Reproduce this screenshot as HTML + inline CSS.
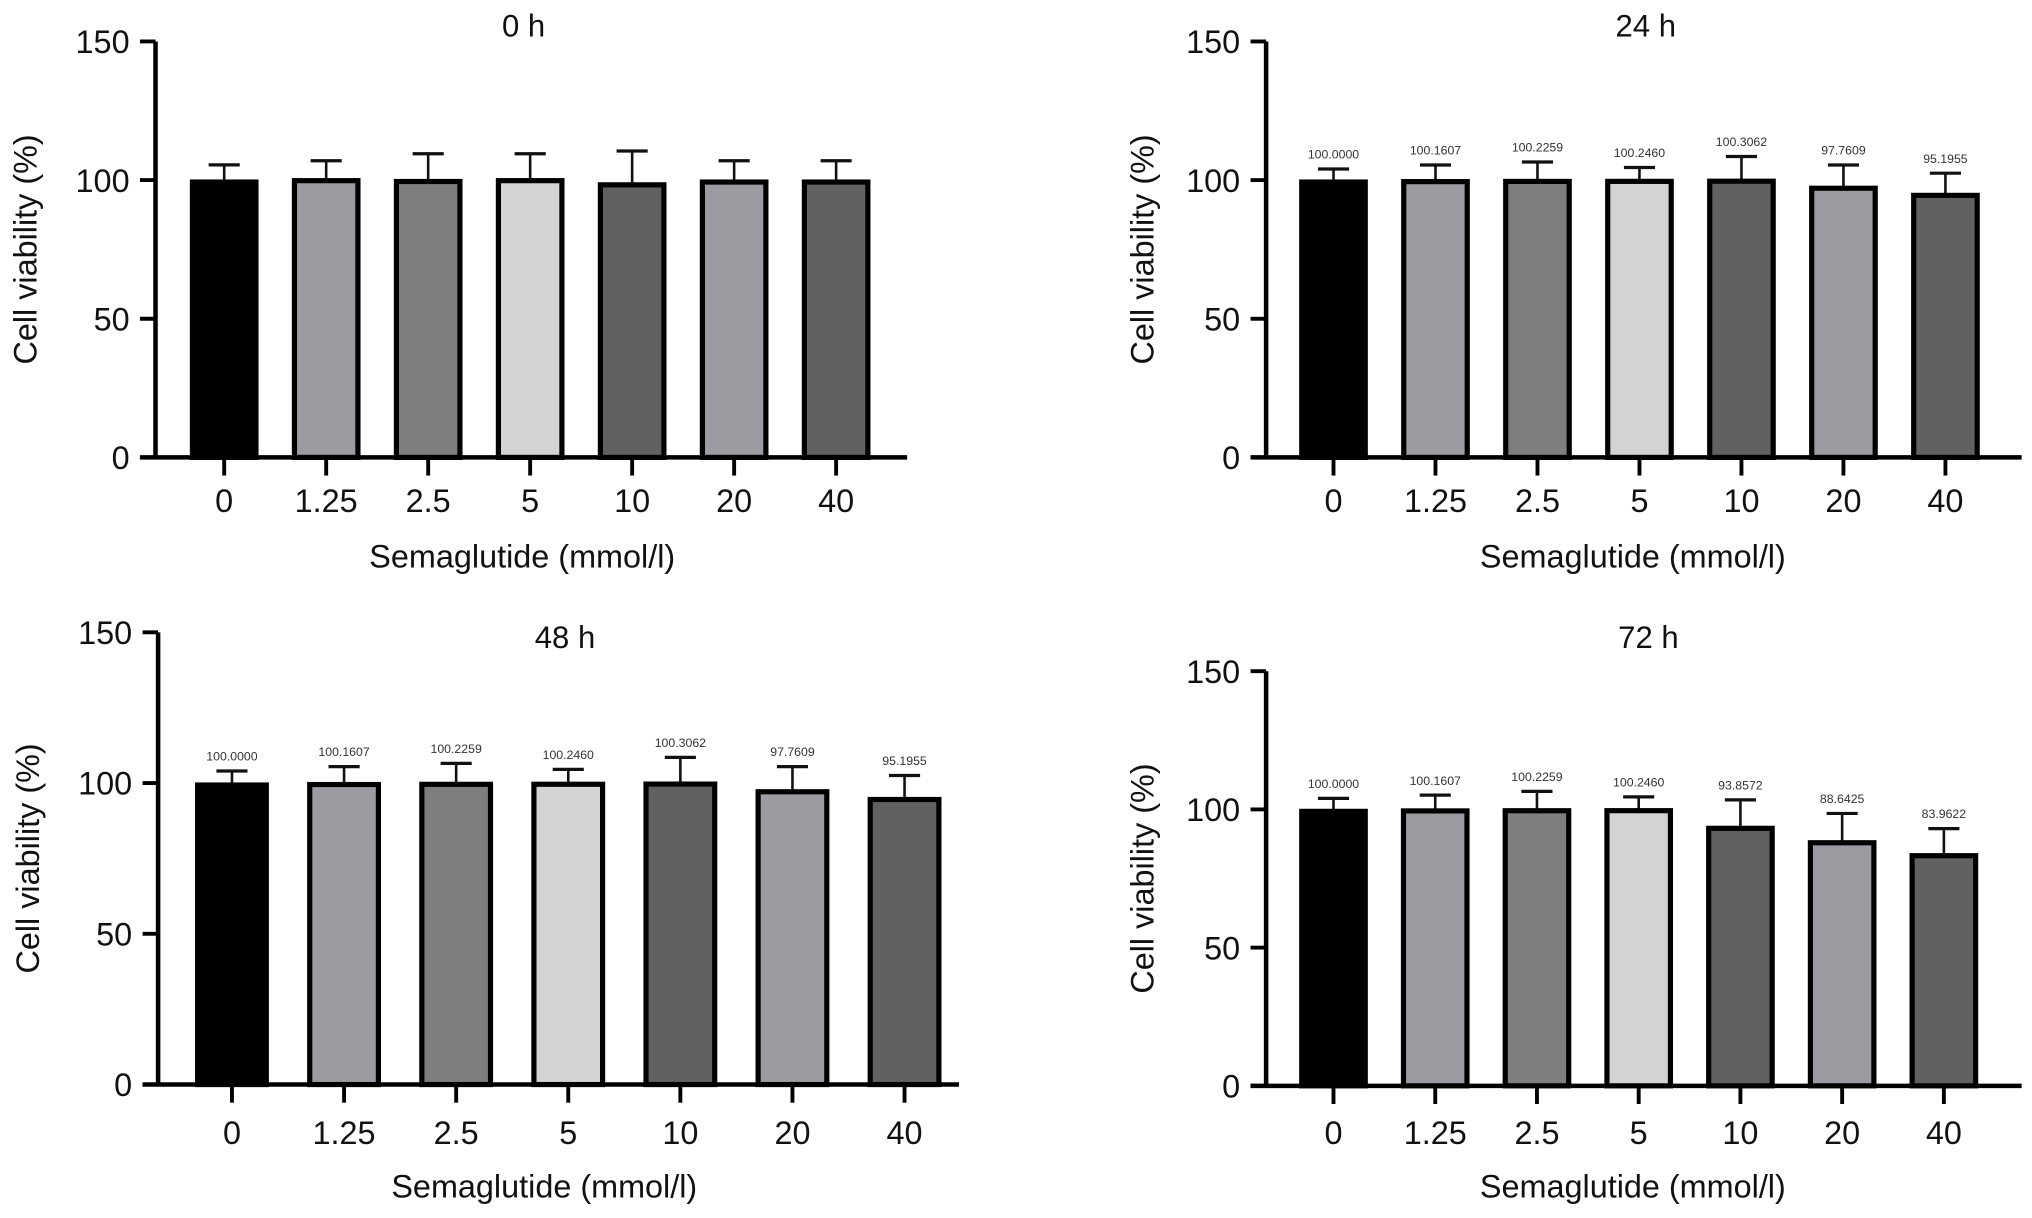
<!DOCTYPE html>
<html><head><meta charset="utf-8"><style>
html,body{margin:0;padding:0;background:#fff;}
svg{display:block;font-family:"Liberation Sans",Arial,sans-serif;}
</style></head><body>
<svg id="fig" width="2032" height="1218" viewBox="0 0 1568 940" preserveAspectRatio="none" xmlns="http://www.w3.org/2000/svg"></svg>
<script>
const categories = ["0","1.25","2.5","5","10","20","40"];
const colors = ["#000000","#9b9ba1","#7e7e7e","#d3d3d3","#616161","#9b9ba1","#616161"];
const yTicks = [0,50,100,150];
const vals0 = [100,100.5,100.2,100.5,99,100,100];
const err0 = [5.5,6.5,9.3,9,11.5,7,7];
const vals24 = [100,100.1607,100.2259,100.2460,100.3062,97.7609,95.1955];
const err24 = [4,5.3,6.3,4.3,8.2,7.7,7.3];
const labels24 = ["100.0000","100.1607","100.2259","100.2460","100.3062","97.7609","95.1955"];
const vals48 = [100,100.1607,100.2259,100.2460,100.3062,97.7609,95.1955];
const err48 = [4,5.3,6.3,4.3,8.2,7.7,7.3];
const labels48 = ["100.0000","100.1607","100.2259","100.2460","100.3062","97.7609","95.1955"];
const vals72 = [100,100.1607,100.2259,100.2460,93.8572,88.6425,83.9622];
const err72 = [4,5,6.3,4.3,9.6,9.9,9.1];
const labels72 = ["100.0000","100.1607","100.2259","100.2460","93.8572","88.6425","83.9622"];

const NS="http://www.w3.org/2000/svg";
const svg=document.getElementById('fig');
function mk(tag,attrs,parent){const e=document.createElementNS(NS,tag);for(const k in attrs)e.setAttribute(k,attrs[k]);(parent||svg).appendChild(e);return e;}

const panels=[
 {id:"0h",title:"0 h",ax:120,top:32,bot:353,x0:173,step:78.7,bw:52,xEnd:700,tx:404,ty:28,lx:403,ly:438,ylx:28,tly:395,vals:vals0,err:err0,labels:null},
 {id:"24h",title:"24 h",ax:977,top:32,bot:353,x0:1029,step:78.7,bw:52,xEnd:1560,tx:1270,ty:28,lx:1260,ly:438,ylx:890,tly:395,vals:vals24,err:err24,labels:labels24},
 {id:"48h",title:"48 h",ax:122,top:488,bot:837,x0:179,step:86.5,bw:56,xEnd:740,tx:436,ty:500,lx:420,ly:924,ylx:30,tly:883,vals:vals48,err:err48,labels:labels48},
 {id:"72h",title:"72 h",ax:977,top:518,bot:838,x0:1029,step:78.5,bw:52,xEnd:1560,tx:1272,ty:500,lx:1260,ly:924,ylx:890,tly:883,vals:vals72,err:err72,labels:labels72}
];

panels.forEach(p=>{
 const g=mk('g',{});
 
 
 const y=v=>p.bot-(v/150)*(p.bot-p.top);
 const x=i=>p.x0+i*p.step;
 const t=mk('text',{x:p.tx,y:p.ty,'font-size':24,'text-anchor':'middle',fill:'#111'},g);t.textContent=p.title;
 
 
 p.vals.forEach((v,i)=>{
  const e=p.err[i];
  const el=mk('line',{x1:x(i),x2:x(i),y1:y(v),y2:y(v+e),stroke:'#111','stroke-width':2},g);
  
  
  const cap=mk('line',{x1:x(i)-12,x2:x(i)+12,y1:y(v+e),y2:y(v+e),stroke:'#111','stroke-width':2.5},g);
  
  
  const r=mk('rect',{x:x(i)-p.bw/2+1.5,y:y(v)+1.5,width:p.bw-3,height:p.bot-y(v)-1.5,fill:colors[i],stroke:'#000','stroke-width':4},g);
  
  
  if(p.labels){
   const lt=mk('text',{x:x(i),y:y(v+e)-8,'font-size':9.5,'text-anchor':'middle',fill:'#333'},g);lt.textContent=p.labels[i];
   
   
  }
  const tk=mk('line',{x1:x(i),x2:x(i),y1:p.bot,y2:p.bot+14,stroke:'#000','stroke-width':3},g);
  
  
  const tl=mk('text',{x:x(i),y:p.tly,'font-size':25,'text-anchor':'middle',fill:'#111'},g);tl.textContent=categories[i];
  
  
 });
 const ya=mk('line',{x1:p.ax,x2:p.ax,y1:p.top,y2:p.bot+1.5,stroke:'#000','stroke-width':3.5},g);
 
 
 const xa=mk('line',{x1:p.ax-12,x2:p.xEnd,y1:p.bot,y2:p.bot,stroke:'#000','stroke-width':3.5},g);
 
 
 yTicks.forEach(v=>{
  const tk=mk('line',{x1:p.ax-12,x2:p.ax,y1:y(v),y2:y(v),stroke:'#000','stroke-width':3},g);
  
  
  const tl=mk('text',{x:p.ax-20,y:y(v)+9,'font-size':25,'text-anchor':'end',fill:'#111'},g);tl.textContent=v;
  
  
 });
 const xl=mk('text',{x:p.lx,y:p.ly,'font-size':25,'text-anchor':'middle',fill:'#111'},g);xl.textContent="Semaglutide (mmol/l)";
 
 
 const cy=(p.top+p.bot)/2;
 const yl=mk('text',{x:p.ylx,y:cy,'font-size':25,'text-anchor':'middle',fill:'#111',transform:`rotate(-90 ${p.ylx} ${cy})`},g);yl.textContent="Cell viability (%)";
 
 
});
</script>
</body></html>
